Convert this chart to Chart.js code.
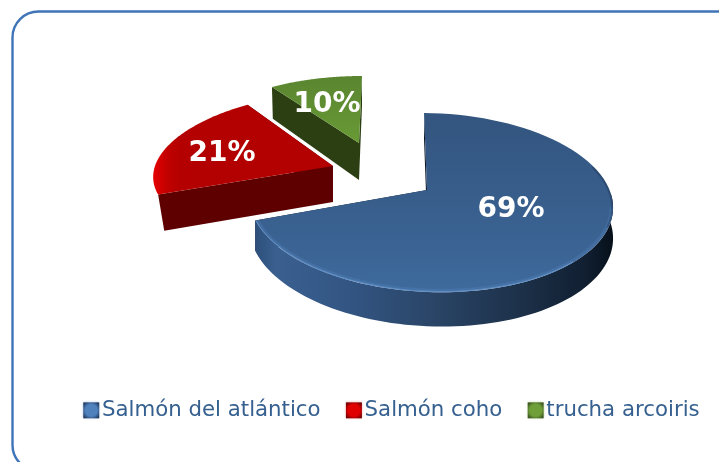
<!DOCTYPE html>
<html><head><meta charset="utf-8">
<style>html,body{margin:0;padding:0;background:#fff;overflow:hidden}#w{position:absolute;left:0;top:0;width:719px;height:462px}canvas{filter:blur(.45px)}</style>
<script src="https://cdn.jsdelivr.net/npm/chart.js@4"></script>
</head><body><div id="w"><canvas id="c" width="719" height="462"></canvas></div>
<script>
const categories=['Salmón del atlántico','Salmón coho','trucha arcoiris'];
const shares=[69,21,10];
const swatchColors=[['#4f81bd','#1f3a5f','#a9c1e0'],['#e00000','#700000','#f0a0a0'],['#6f9f38','#3a5420','#bcd49a']];
const legendColor='#35608f';
const FONT='"DejaVu Sans"';
// per-slice projective view of the pie (apex, radii, perspective, depth)
const views=[
 {ax:427,ay:190,rx:180,a:87.8,k:.14,j:.02,s:3.4,t:3,d:29.5,shrink:0,lx:84,ly:20,wall:'#0b1522'},
 {ax:333,ay:166,rx:178,a:77,k:.02,j:0,s:-22,t:0,d:36,shrink:.035,lx:-111,ly:-12,wall:'#5f0000'},
 {ax:359,ay:143,rx:177,a:80.4,k:.2,j:0,s:-3.6,t:0,d:37,shrink:.01,lx:-32,ly:-38,wall:'#2c3f13'}
];
function proj(v,th,r){
  const x=r*Math.sin(th),y=-r*Math.cos(th),w=1-v.k*y-v.j*x;
  return {x:v.ax+(v.rx*x+v.s*y)/w,y:v.ay+(v.a*y+v.t*x)/w,w};
}
function low(v,p){return {x:p.x+(v.ax-p.x)*v.shrink,y:p.y+v.d/p.w};}
function topPath(ctx,v,a,b){
  ctx.beginPath();ctx.moveTo(v.ax,v.ay);
  for(let i=0;i<=80;i++){const p=proj(v,a+(b-a)*i/80,1);ctx.lineTo(p.x,p.y);}
  ctx.closePath();
}
function wall(ctx,v,th){
  const p=proj(v,th,1),c=proj(v,th,0),pl=low(v,p),cl=low(v,c);
  ctx.fillStyle=v.wall;ctx.beginPath();ctx.moveTo(p.x,p.y);ctx.lineTo(c.x,c.y);ctx.lineTo(cl.x,cl.y);ctx.lineTo(pl.x,pl.y);ctx.closePath();ctx.fill();
}
function rim(ctx,v,a,b,fill){
  const lo=Math.max(a,Math.PI/2),hi=Math.min(b,Math.PI*1.5);
  if(hi<=lo)return;
  const pts=[];for(let i=0;i<=80;i++)pts.push(proj(v,lo+(hi-lo)*i/80,1));
  ctx.fillStyle=fill;ctx.beginPath();
  pts.forEach((p,i)=>i?ctx.lineTo(p.x,p.y):ctx.moveTo(p.x,p.y));
  pts.slice().reverse().forEach(p=>{const q=low(v,p);ctx.lineTo(q.x,q.y);});
  ctx.closePath();ctx.fill();
}
function grad(ctx,x0,y0,x1,y1,stops){const g=ctx.createLinearGradient(x0,y0,x1,y1);stops.forEach(s=>g.addColorStop(s[0],s[1]));return g;}
const pie3d={id:'pie3d',
 beforeDraw(chart){
  const ctx=chart.ctx;ctx.save();ctx.fillStyle='#fff';ctx.fillRect(0,0,719,462);
  ctx.strokeStyle='#3f74b8';ctx.lineWidth=2.4;ctx.beginPath();ctx.roundRect(12.5,11.5,800,459.5,26);ctx.stroke();ctx.restore();
 },
 beforeDatasetDraw(chart){
  const ctx=chart.ctx,arcs=chart.getDatasetMeta(0).data;
  ctx.save();
  [2,1,0].forEach(i=>{
   const v=views[i],el=arcs[i],a=el.startAngle+Math.PI/2,b=el.endAngle+Math.PI/2;
   wall(ctx,v,a);wall(ctx,v,b);
   if(i===0){
    rim(ctx,v,a,b,grad(ctx,254,0,613,0,[[0,'#2c4e78'],[.06,'#3a6090'],[.25,'#335684'],[.5,'#2a4567'],[.75,'#1c3048'],[.93,'#101e30'],[1,'#06101a']]));
   }
   topPath(ctx,v,a,b);
   if(i===0){ctx.fillStyle=grad(ctx,0,113,0,292,[[0,'#33557f'],[.5,'#385e8c'],[1,'#3e6a9c']]);}
   else if(i===1){ctx.fillStyle=grad(ctx,155,0,215,0,[[0,'#e20000'],[.18,'#c40000'],[.4,'#b40000'],[1,'#b30000']]);}
   else{ctx.fillStyle=grad(ctx,0,76,0,143,[[0,'#5a8530'],[1,'#689a35']]);}
   ctx.fill();
   if(i===0){ // soft bevel along the front edge
    ctx.save();topPath(ctx,v,a,b);ctx.clip();
    const path=(lo,hi)=>{ctx.beginPath();for(let n=0;n<=60;n++){const p=proj(v,lo+(hi-lo)*n/60,1);n?ctx.lineTo(p.x,p.y):ctx.moveTo(p.x,p.y);}};
    path(Math.PI*.55,b);ctx.strokeStyle='rgba(90,140,200,.25)';ctx.lineWidth=7;ctx.stroke();
    path(Math.PI*.75,b);ctx.strokeStyle='rgba(120,165,220,.55)';ctx.lineWidth=2.4;ctx.stroke();
    path(Math.PI*.4,Math.PI*.62);ctx.strokeStyle='rgba(10,25,45,.25)';ctx.lineWidth=4;ctx.stroke();
    ctx.restore();
   }
  });
  ctx.fillStyle='#fff';ctx.font='bold 28px '+FONT;ctx.textAlign='center';ctx.textBaseline='middle';
  shares.forEach((n,i)=>{const v=views[i];ctx.fillText(n+'%',v.ax+v.lx,v.ay+v.ly);});
  ctx.restore();
  return false;
 },
 afterDraw(chart){
  const ctx=chart.ctx,boxes=chart.legend.legendHitBoxes;
  ctx.save();
  boxes.forEach((h,i)=>{
   const c=swatchColors[i],x=h.left-7,y=h.top+h.height/2-8,sz=16;
   ctx.shadowColor=c[2];ctx.shadowBlur=3;
   const g=ctx.createRadialGradient(x+sz/2,y+sz/2,1,x+sz/2,y+sz/2,sz*.62);
   g.addColorStop(0,c[0]);g.addColorStop(.55,c[0]);g.addColorStop(1,c[1]);
   ctx.fillStyle=g;ctx.fillRect(x,y,sz,sz);
  });
  ctx.restore();
 }
};
new Chart(document.getElementById('c'),{
 type:'pie',
 data:{labels:categories,datasets:[{data:shares,backgroundColor:['#385e8c','#b30000','#5f8a30'],borderWidth:0}]},
 options:{responsive:false,animation:false,events:[],
  layout:{padding:{right:-13,bottom:31}},
  plugins:{tooltip:{enabled:false},
   legend:{position:'bottom',align:'end',
    labels:{boxWidth:1,boxHeight:1,padding:32.3,color:legendColor,font:{family:FONT,size:21.3},
     generateLabels:c=>c.data.labels.map((t,i)=>({text:t,fillStyle:'rgba(0,0,0,0)',strokeStyle:'rgba(0,0,0,0)',lineWidth:0,hidden:false,index:i,fontColor:legendColor}))}}}},
 plugins:[pie3d]
});
</script></body></html>
